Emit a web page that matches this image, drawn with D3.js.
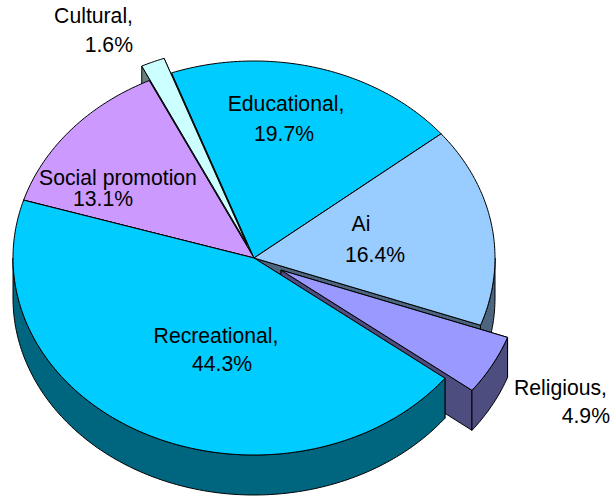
<!DOCTYPE html>
<html>
<head>
<meta charset="utf-8">
<script src="https://cdn.jsdelivr.net/npm/d3@7"></script>
<style>
    html, body { margin: 0; padding: 0; background: #fff; }
    text { font-family: "Liberation Sans", Arial, sans-serif; font-size: 21.2px; fill: #000; }
</style>
</head>
<body>
<svg id="chart" width="613" height="496"></svg>
<script>
const categories = ['Cultural', 'Educational', 'Ai', 'Religious', 'Recreational', 'Social promotion'];
const values = [1.6, 19.7, 16.4, 4.9, 44.3, 13.1];
const labelHeads = ['Cultural,', 'Educational,', 'Ai', 'Religious,', 'Recreational,', 'Social promotion'];

const topColors = ['#CCFFFF', '#00CCFF', '#99CCFF', '#9999FF', '#00CCFF', '#CC99FF'];
const sideColors = ['#668080', '#006680', '#4D6680', '#4D4D80', '#006680', '#664D80'];
const explode = [0.08, 0, 0, 0.128, 0, 0];
const drawOrder = ['Educational', 'Ai', 'Cultural', 'Social promotion', 'Religious', 'Recreational'];

// label anchors: [x, first line y, x of second line, second line y, anchor]
const labelPos = {
    'Cultural': [133, 23, 133, 52, 'end'],
    'Educational': [286, 111, 284, 141, 'middle'],
    'Ai': [361, 231, 375, 262, 'middle'],
    'Religious': [607, 395, 610, 423, 'end'],
    'Recreational': [216, 343, 222, 371, 'middle'],
    'Social promotion': [118, 185, 103, 206, 'middle'],
};

const depth = 40;
const svg = d3.select('#chart');
const x = d3.scaleLinear().domain([-1, 1]).range([13, 495]);
const y = d3.scaleLinear().domain([-1, 1]).range([61, 455]);

const start = -25.76 * Math.PI / 180;
const pie = d3.pie().sort(null).startAngle(start).endAngle(start + 2 * Math.PI);
const arcs = pie(values).map((d, i) => {
    return { ...d, name: categories[i], top: topColors[i], side: sideColors[i], e: explode[i] };
});

function point(d, t, r, dz) {
    const mid = (d.startAngle + d.endAngle) / 2;
    return [
        x(r * Math.sin(t) + d.e * Math.sin(mid)),
        y(-r * Math.cos(t) - d.e * Math.cos(mid)) + dz,
    ];
}

function rim(d, t0, t1, dz) {
    const n = Math.max(2, Math.ceil((t1 - t0) * 60));
    return d3.range(n + 1).map(i => point(d, t0 + (t1 - t0) * i / n, 1, dz));
}

const line = d3.line();

function drawSlice(g, d) {
    // radial side walls
    [d.startAngle, d.endAngle].forEach(t => {
        g.append('path')
            .attr('d', line([
                point(d, t, 0, 0), point(d, t, 1, 0),
                point(d, t, 1, depth), point(d, t, 0, depth),
            ]) + 'Z')
            .attr('fill', d.side);
    });

    // outer wall, only the part facing the viewer
    const low = Math.PI / 2;
    const high = 3 * Math.PI / 2;
    const t0 = Math.max(d.startAngle, low);
    const t1 = Math.min(d.endAngle, high);
    if (t1 > t0) {
        g.append('path')
            .attr('d', line(rim(d, t0, t1, 0).concat(rim(d, t0, t1, depth).reverse())) + 'Z')
            .attr('fill', d.side);
    }

    g.append('path')
        .attr('d', line([point(d, 0, 0, 0)].concat(rim(d, d.startAngle, d.endAngle, 0))) + 'Z')
        .attr('fill', d.top);
}

const slices = svg.append('g')
    .attr('stroke', '#000')
    .attr('stroke-width', 1)
    .attr('stroke-linejoin', 'round');

drawOrder.forEach(name => {
    const d = arcs.find(a => a.name === name);
    drawSlice(slices.append('g').attr('class', 'slice'), d);
});

const pct = d3.format('.1f');
const labels = svg.append('g');
categories.forEach((name, i) => {
    const p = labelPos[name];
    labels.append('text').attr('x', p[0]).attr('y', p[1])
        .attr('text-anchor', p[4]).text(labelHeads[i]);
    labels.append('text').attr('x', p[2]).attr('y', p[3])
        .attr('text-anchor', p[4]).text(pct(values[i]) + '%');
});
</script>
</body>
</html>
